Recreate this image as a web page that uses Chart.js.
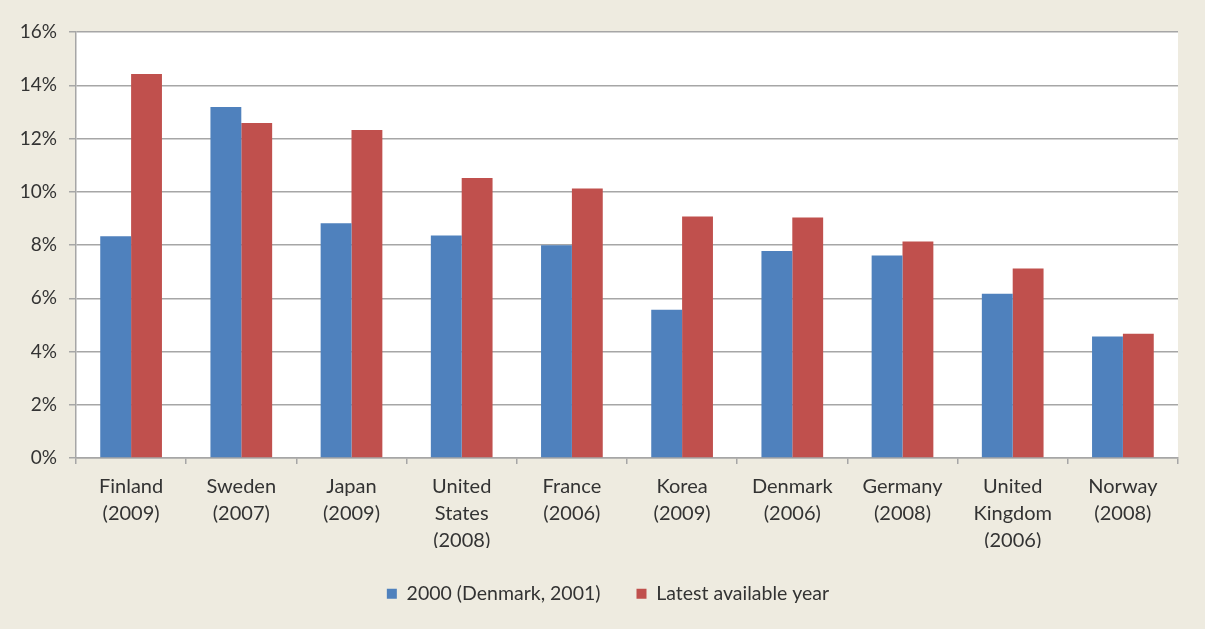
<!DOCTYPE html>
<html>
<head>
<meta charset="utf-8">
<script src="https://cdn.jsdelivr.net/npm/chart.js@4/dist/chart.umd.min.js"></script>
<style>
  html, body { margin: 0; padding: 0; background: #EEEBE0; }
  #wrap { width: 1205px; height: 629px; }
</style>
</head>
<body>
<div id="wrap"><canvas id="myChart" width="1205" height="629"></canvas></div>
<script>
// chart data
const countries = [
   ["Finland", "(2009)"],
   ["Sweden", "(2007)"],
   ["Japan", "(2009)"],
   ["United", "States", "(2008)"],
   ["France", "(2006)"],
   ["Korea", "(2009)"],
   ["Denmark", "(2006)"],
   ["Germany", "(2008)"],
   ["United", "Kingdom", "(2006)"],
   ["Norway", "(2008)"]
];
const values2000 = [8.33, 13.18, 8.82, 8.36, 7.99, 5.57, 7.77, 7.61, 6.17, 4.56];
const valuesLatest = [14.42, 12.58, 12.32, 10.52, 10.12, 9.07, 9.03, 8.13, 7.12, 4.67];
const seriesNames = ["2000 (Denmark, 2001)", "Latest available year"];

const gridGrey = "#A6A6A6";
const textColor = "#333333";

// paint beige page and white plot area
const backgroundPlugin = {
   id: "background",
   beforeDraw(chart) {
      const ctx = chart.ctx;
      const a = chart.chartArea;
      ctx.save();
      ctx.fillStyle = "#EEEBE0";
      ctx.fillRect(0, 0, chart.width, chart.height);
      ctx.fillStyle = "#FFFFFF";
      ctx.fillRect(a.left, a.top, a.right - a.left, a.bottom - a.top);
      ctx.restore();
   }
};

// fixed legend height, and nudge it right a bit like the original
const legendPlugin = {
   id: "legendTweak",
   beforeInit(chart) {
      const lg = chart.legend;
      const origFit = lg.fit;
      const origDraw = lg.draw;
      lg.fit = function () {
         origFit.bind(lg)();
         this.height = 74;
      };
      lg.draw = function () {
         chart.ctx.save();
         chart.ctx.translate(19, 0);
         origDraw.bind(lg)();
         chart.ctx.restore();
      };
   }
};

let ctx = document.getElementById("myChart").getContext("2d");
let newChart = new Chart(ctx, {
   type: "bar",
   data: {
      labels: countries,
      datasets: [{
         label: seriesNames[0],
         backgroundColor: "#4F81BD",
         data: values2000
      }, {
         label: seriesNames[1],
         backgroundColor: "#C0504D",
         data: valuesLatest
      }]
   },
   options: {
      responsive: false,
      animation: false,
      layout: { padding: { left: 0, right: 27, top: 32, bottom: 7 } },
      categoryPercentage: 0.56,
      barPercentage: 1.0,
      plugins: {
         tooltip: { enabled: false },
         legend: {
            position: "bottom",
            labels: {
               boxWidth: 10,
               boxHeight: 10,
               padding: 36,
               color: textColor,
               font: { family: "Lato", size: 19.5 }
            }
         }
      },
      scales: {
         x: {
            afterFit(scale) { scale.height = 90; },
            grid: {
               offset: true,
               drawOnChartArea: false,
               color: gridGrey,
               tickLength: 6,
               lineWidth: 1.5
            },
            border: { color: gridGrey, width: 1.5 },
            ticks: {
               autoSkip: false,
               maxRotation: 0,
               padding: 9,
               color: textColor,
               font: { family: "Lato", size: 20, lineHeight: 1.35 }
            }
         },
         y: {
            min: 0,
            max: 16,
            afterFit(scale) { scale.width = 76; },
            grid: {
               color: gridGrey,
               tickLength: 7,
               lineWidth: 1.5
            },
            border: { color: gridGrey, width: 1.5 },
            ticks: {
               stepSize: 2,
               padding: 12,
               color: textColor,
               font: { family: "Lato", size: 19 },
               callback: (v) => v + "%"
            }
         }
      }
   },
   plugins: [backgroundPlugin, legendPlugin]
});
</script>
</body>
</html>
